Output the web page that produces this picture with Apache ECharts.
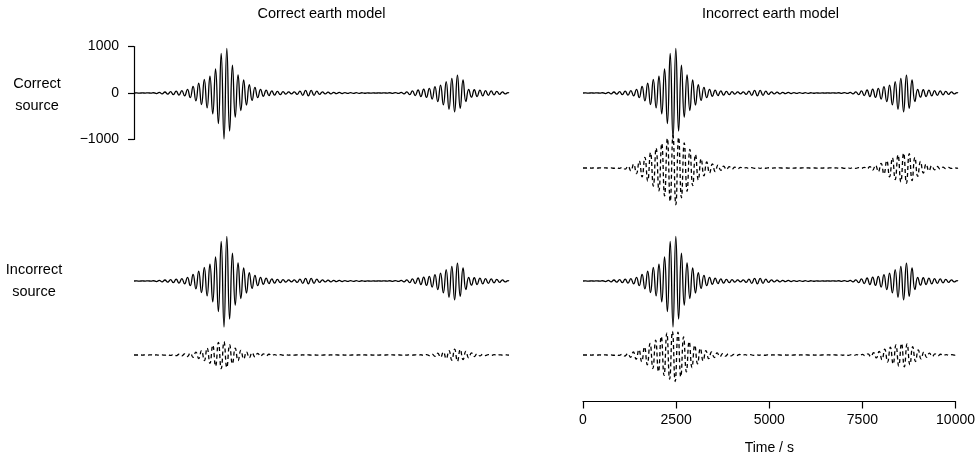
<!DOCTYPE html>
<html>
<head>
<meta charset="utf-8">
<title>Seismogram panels</title>
<script src="https://cdn.jsdelivr.net/npm/echarts@6/dist/echarts.min.js"></script>
<style>
  html, body { margin: 0; padding: 0; background: #fff; }
  #chart { width: 978px; height: 459px; }
</style>
</head>
<body>
<div id="chart"></div>
<script>
// extremum times of the traces (s)
const times = [
  0, 75, 150, 225, 300, 375, 450, 525, 600, 675,
  750, 825, 900, 975, 1050, 1125, 1200, 1275, 1350, 1425,
  1500, 1575, 1650, 1725, 1800, 1875, 1950, 2025, 2100, 2175,
  2250, 2325, 2400, 2475, 2550, 2625, 2700, 2775, 2850, 2925,
  3000, 3075, 3150, 3225, 3300, 3375, 3450, 3525, 3600, 3675,
  3750, 3825, 3900, 3975, 4050, 4125, 4200, 4275, 4350, 4425,
  4500, 4575, 4650, 4725, 4800, 4875, 4950, 5025, 5100, 5175,
  5250, 5325, 5400, 5475, 5550, 5625, 5700, 5775, 5850, 5925,
  6000, 6075, 6150, 6225, 6300, 6375, 6450, 6525, 6600, 6675,
  6750, 6825, 6900, 6975, 7050, 7125, 7200, 7275, 7350, 7425,
  7500, 7575, 7650, 7725, 7800, 7875, 7950, 8025, 8100, 8175,
  8250, 8325, 8400, 8475, 8550, 8625, 8700, 8775, 8850, 8925,
  9000, 9075, 9150, 9225, 9300, 9375, 9450, 9525, 9600, 9675,
  9750, 9825, 9900, 9975, 10000
];

// observed seismogram (solid, same in every panel)
const observed = [
  0, 1, -2, 2, -2, 3, -3, 5, -12, 15,
  -20, 22, -25, 30, -35, 40, -45, 50, -60, 80,
  -100, 140, -170, 210, -250, 290, -320, 360, -450, 520,
  -660, 850, -990, 960, -820, 600, -520, 390, -380, 280,
  -260, 180, -160, 120, -100, 80, -70, 60, -55, 45,
  -45, 35, -35, 30, -25, 25, -20, 25, -30, 40,
  -50, 55, -60, 55, -50, 40, -30, 25, -20, 18,
  -18, 15, -15, 12, -12, 10, -10, 8, -8, 6,
  -6, 5, -5, 4, -4, 3, -3, 3, -3, 4,
  -4, 5, -6, 8, -10, 12, -18, 25, -35, 45,
  -55, 65, -75, 85, -95, 100, -130, 135, -185, 170,
  -255, 245, -350, 315, -405, 385, -330, 280, -185, 80,
  -90, 70, -75, 60, -60, 50, -50, 45, -40, 35,
  -30, 25, -20, 10, 0
];

// incorrect earth model, correct source (dashed, top right)
const predEarth = [
  0, 0, 1, -1, 1, -2, 2, -2, 3, -3,
  4, -5, 6, -10, 15, -25, 40, -60, 85, -120,
  150, -190, 230, -280, 330, -390, 430, -490, 530, -600,
  640, -720, 700, -790, 660, -640, 540, -500, 400, -380,
  290, -260, 200, -170, 130, -110, 90, -75, 60, -50,
  40, -35, 28, -25, 20, -18, 15, -12, 10, -8,
  8, -7, 7, -6, 6, -5, 5, -5, 4, -4,
  4, -4, 3, -3, 3, -3, 3, -3, 3, -3,
  3, -3, 3, -3, 3, -3, 3, -3, 4, -4,
  4, -5, 5, -6, 6, -7, 7, -8, 8, -10,
  15, -20, 30, -45, 60, -80, 100, -130, 160, -190,
  220, -250, 280, -300, 320, -330, 310, -270, 230, -180,
  140, -110, 85, -65, 50, -40, 32, -25, 20, -15,
  12, -10, 8, -5, 0
];

// correct earth model, incorrect source (dashed, bottom left)
const predSource = [
  0, 0, 1, -1, 1, -1, 2, -2, 2, -3,
  3, -4, 6, -8, 10, -13, 16, -20, 25, -32,
  40, -50, 62, -75, 95, -120, 150, -180, 210, -240,
  270, -295, 285, -270, 220, -190, 150, -120, 100, -85,
  70, -60, 50, -42, 35, -30, 25, -20, 16, -13,
  10, -8, 6, -5, 5, -4, 4, -3, 3, -3,
  3, -3, 3, -3, 3, -3, 2, -2, 2, -2,
  2, -2, 2, -2, 2, -2, 2, -2, 2, -2,
  2, -2, 2, -2, 2, -2, 2, -2, 2, -2,
  2, -2, 3, -3, 3, -3, 3, -3, 4, -4,
  4, -5, 5, -7, 10, -14, 20, -28, 38, -50,
  65, -80, 95, -110, 125, -135, 120, -100, 80, -60,
  45, -35, 26, -20, 15, -12, 10, -8, 6, -5,
  4, -3, 2, -1, 0
];

// incorrect earth model, incorrect source (dashed, bottom right)
const predBoth = [
  0, 0, 1, -1, 1, -2, 2, -2, 3, -3,
  4, -5, 6, -10, 15, -22, 32, -48, 65, -90,
  115, -145, 175, -210, 250, -290, 320, -360, 400, -440,
  470, -520, 510, -570, 490, -470, 390, -360, 290, -270,
  210, -190, 145, -125, 95, -80, 65, -55, 45, -38,
  30, -26, 22, -18, 15, -13, 11, -9, 8, -7,
  7, -6, 6, -5, 5, -5, 4, -4, 4, -4,
  3, -3, 3, -3, 3, -3, 3, -3, 3, -3,
  3, -3, 3, -3, 3, -3, 3, -3, 4, -4,
  4, -4, 5, -5, 6, -6, 6, -7, 7, -8,
  12, -16, 24, -35, 48, -62, 80, -100, 125, -150,
  170, -195, 215, -235, 250, -255, 240, -210, 180, -140,
  110, -85, 65, -50, 40, -32, 25, -20, 16, -12,
  10, -8, 6, -4, 0
];

const timeTicks = [0, 2500, 5000, 7500, 10000];
const ampTicks = [-1000, 0, 1000];

const font = '"Liberation Sans", Arial, sans-serif';
const leftX = 134, rightX = 583, panelW = 375, traceH = 93;

// one grid per trace, centred on its zero line
const traces = [
  { x: leftX, zero: 93, values: observed, dashed: false },
  { x: rightX, zero: 93, values: observed, dashed: false },
  { x: rightX, zero: 168, values: predEarth, dashed: true },
  { x: leftX, zero: 281, values: observed, dashed: false },
  { x: leftX, zero: 355, values: predSource, dashed: true },
  { x: rightX, zero: 281, values: observed, dashed: false },
  { x: rightX, zero: 355, values: predBoth, dashed: true },
];

const chart = echarts.init(document.getElementById('chart'), null, { renderer: 'canvas' });

const grids = traces.map(t => ({
  left: t.x, top: t.zero - traceH / 2, width: panelW, height: traceH
}));

const xAxes = traces.map((t, i) => {
  const isBottom = i === traces.length - 1;
  return {
    type: 'value', gridIndex: i, min: 0, max: 10000, interval: 2500,
    show: isBottom,
    axisLine: { show: isBottom, onZero: false, lineStyle: { color: '#000', width: 1.2 } },
    axisTick: { show: isBottom, length: 7, lineStyle: { color: '#000', width: 1.2 } },
    axisLabel: {
      show: isBottom, margin: 12, color: '#000', fontFamily: font, fontSize: 14,
      formatter: v => timeTicks.includes(v) ? String(v) : ''
    },
    splitLine: { show: false },
    name: isBottom ? 'Time / s' : '',
    nameLocation: 'middle', nameGap: 40,
    nameTextStyle: { color: '#000', fontFamily: font, fontSize: 14 }
  };
});

const yAxes = traces.map((t, i) => {
  const withAxis = i === 0;
  return {
    type: 'value', gridIndex: i, min: -1000, max: 1000, interval: 1000,
    show: withAxis,
    axisLine: { show: withAxis, onZero: false, lineStyle: { color: '#000', width: 1.2 } },
    axisTick: { show: withAxis, length: 6, lineStyle: { color: '#000', width: 1.2 } },
    axisLabel: {
      show: withAxis, margin: 15, color: '#000', fontFamily: font, fontSize: 14,
      formatter: v => ampTicks.includes(v) ? String(v).replace('-', '\u2212') : ''
    },
    splitLine: { show: false }
  };
});

const series = traces.map((t, i) => ({
  type: 'line',
  xAxisIndex: i, yAxisIndex: i,
  data: times.map((tm, k) => [tm, t.values[k]]),
  showSymbol: false,
  smooth: 0.5,
  clip: false,
  lineStyle: { color: '#000', width: 1.3, type: t.dashed ? [4, 3] : 'solid' },
  silent: true
}));

function label(text, x, y) {
  return {
    type: 'text', x, y,
    style: { text, font: '14.5px ' + font, fill: '#000', align: 'center', verticalAlign: 'middle' }
  };
}

chart.setOption({
  animation: false,
  backgroundColor: '#fff',
  grid: grids,
  xAxis: xAxes,
  yAxis: yAxes,
  series,
  graphic: [
    label('Correct earth model', leftX + panelW / 2, 14),
    label('Incorrect earth model', rightX + panelW / 2, 14),
    label('Correct', 37, 84),
    label('source', 37, 106),
    label('Incorrect', 34, 270),
    label('source', 34, 292)
  ]
});

window.addEventListener('resize', () => chart.resize());
</script>
</body>
</html>
